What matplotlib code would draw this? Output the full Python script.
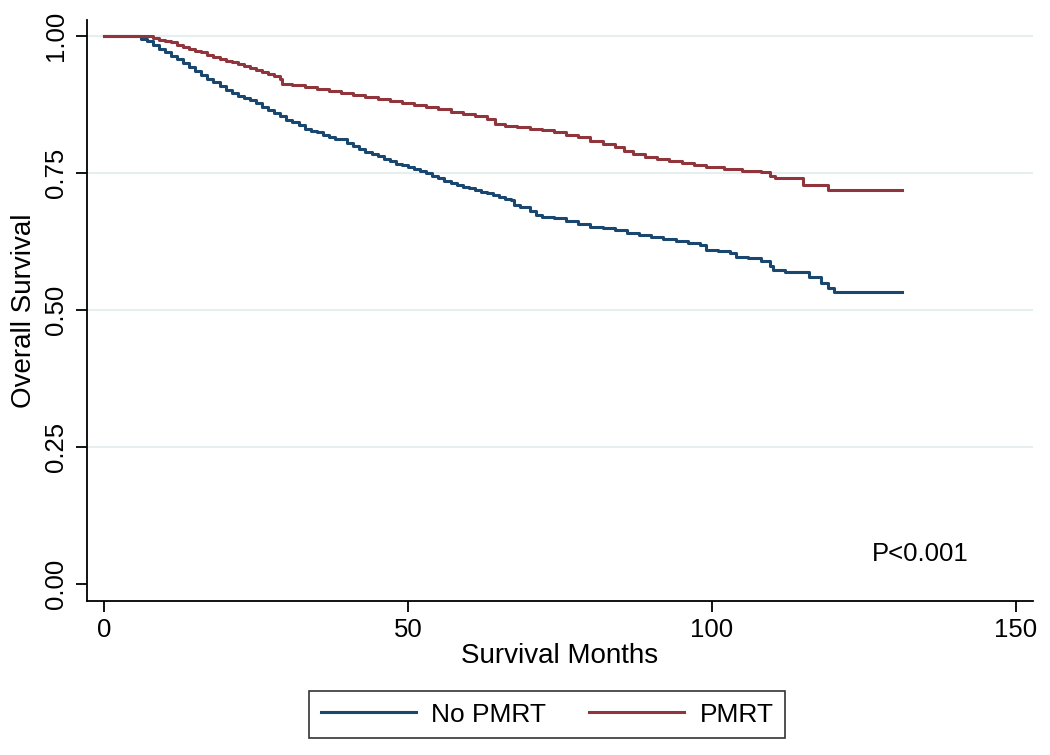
import matplotlib
matplotlib.use("Agg")
import matplotlib.pyplot as plt

plt.rcParams['font.family'] = ['Liberation Sans', 'DejaVu Sans']

# Kaplan-Meier step data (months, survival)
no_pmrt_t = [0, 6, 7, 8, 9, 10, 11, 12, 13, 14, 15, 16, 17, 18, 19, 20, 21, 22, 23, 24,
             25, 26, 27, 28, 29, 30, 31, 32, 33, 34, 35, 36, 37, 38, 40, 41, 42, 43, 44,
             45, 46, 47, 48, 49, 50, 51, 52, 53, 54, 55, 56, 57, 58, 59, 60, 61, 62, 63,
             64, 65, 66, 67, 67.5, 68.5, 70, 71, 72, 74, 76, 78, 80, 82, 84, 86, 88, 90,
             92, 94, 96, 98, 99, 101, 103, 104, 106, 108, 109.5, 110, 112, 116, 118, 119,
             120, 131.3]
no_pmrt_s = [1.0, 0.995, 0.990, 0.983, 0.977, 0.970, 0.963, 0.957, 0.950, 0.943, 0.936,
             0.929, 0.922, 0.915, 0.908, 0.902, 0.896, 0.891, 0.886, 0.883, 0.877, 0.871,
             0.865, 0.859, 0.853, 0.847, 0.842, 0.838, 0.831, 0.827, 0.824, 0.820, 0.816,
             0.811, 0.805, 0.799, 0.793, 0.789, 0.785, 0.780, 0.775, 0.771, 0.767, 0.764,
             0.760, 0.757, 0.753, 0.749, 0.745, 0.741, 0.736, 0.731, 0.728, 0.725, 0.722,
             0.719, 0.716, 0.713, 0.709, 0.706, 0.703, 0.700, 0.692, 0.687, 0.681, 0.673,
             0.670, 0.667, 0.662, 0.657, 0.652, 0.649, 0.645, 0.640, 0.637, 0.634, 0.630,
             0.626, 0.623, 0.619, 0.610, 0.607, 0.603, 0.597, 0.595, 0.590, 0.580, 0.573,
             0.569, 0.560, 0.549, 0.540, 0.533, 0.533]

pmrt_t = [0, 8.1, 9, 10, 11, 12, 13, 14, 15, 16, 17, 18, 19, 20, 21, 22, 23, 24, 25, 26,
          27, 28, 29, 29.2, 31, 33, 35, 37, 39, 41, 43, 45, 47, 49, 51, 53, 55, 57, 59, 61,
          63, 64.3, 66, 68, 70, 72, 74, 76, 78, 80, 82, 84, 85.5, 87, 89, 91, 93, 95, 97,
          99, 102, 105, 108, 109.5, 110.3, 115, 119.1, 131.3]
pmrt_s = [1.0, 0.997, 0.993, 0.990, 0.988, 0.984, 0.980, 0.976, 0.973, 0.970, 0.966,
          0.962, 0.958, 0.955, 0.952, 0.948, 0.945, 0.942, 0.938, 0.935, 0.931, 0.927,
          0.922, 0.912, 0.910, 0.907, 0.904, 0.899, 0.895, 0.892, 0.889, 0.885, 0.882,
          0.878, 0.874, 0.870, 0.866, 0.861, 0.857, 0.853, 0.848, 0.840, 0.836, 0.833,
          0.830, 0.828, 0.824, 0.819, 0.815, 0.808, 0.802, 0.797, 0.790, 0.784, 0.779,
          0.775, 0.772, 0.769, 0.765, 0.760, 0.758, 0.754, 0.751, 0.745, 0.741, 0.728,
          0.719, 0.719]

x_ticks = [0, 50, 100, 150]
y_ticks = [0.0, 0.25, 0.5, 0.75, 1.0]
y_tick_labels = ["0.00", "0.25", "0.50", "0.75", "1.00"]
series_labels = ["No PMRT", "PMRT"]
p_text = "P<0.001"

navy = '#1a476f'
maroon = '#90353b'

fig = plt.figure(figsize=(10.5, 7.55), dpi=100)
ax = fig.add_axes([87/1050, 1 - 601/755, 946/1050, 581/755])

for yv in y_ticks[1:]:
    ax.axhline(yv, color='#e6eef0', lw=1.5, zorder=0)

l1, = ax.step(no_pmrt_t, no_pmrt_s, where='post', color=navy, lw=2.2, label=series_labels[0])
l2, = ax.step(pmrt_t, pmrt_s, where='post', color=maroon, lw=2.2, label=series_labels[1])

ax.set_xlim(-2.8, 152.8)
ax.set_ylim(-0.031, 1.029)
ax.set_xticks(x_ticks)
ax.set_yticks(y_ticks)
ax.set_yticklabels(y_tick_labels, rotation=90, va='center')

for s in ['top', 'right']:
    ax.spines[s].set_visible(False)
for s in ['left', 'bottom']:
    ax.spines[s].set_linewidth(1.3)
ax.tick_params(axis='both', length=8, width=1.3, labelsize=18.5, direction='out')
ax.tick_params(axis='y', pad=6)
ax.tick_params(axis='x', pad=4)

ax.set_xlabel("Survival Months", fontsize=20)
ax.set_ylabel("Overall Survival", fontsize=20)
ax.xaxis.set_label_coords(0.5, -0.072)
ax.yaxis.set_label_coords(-0.053, 0.5)

ax.text(126.3, 0.0547, p_text, fontsize=18.5, va='center', ha='left')

leg = fig.legend(handles=[l1, l2], loc='center', bbox_to_anchor=(547/1050, 1 - 714.5/755),
                 ncol=2, fontsize=19, frameon=True, fancybox=False, edgecolor='black',
                 handlelength=3.6, handletextpad=0.6, columnspacing=1.6, borderpad=0.42)
leg.get_frame().set_linewidth(1.2)

fig.savefig("out.png", dpi=100)
